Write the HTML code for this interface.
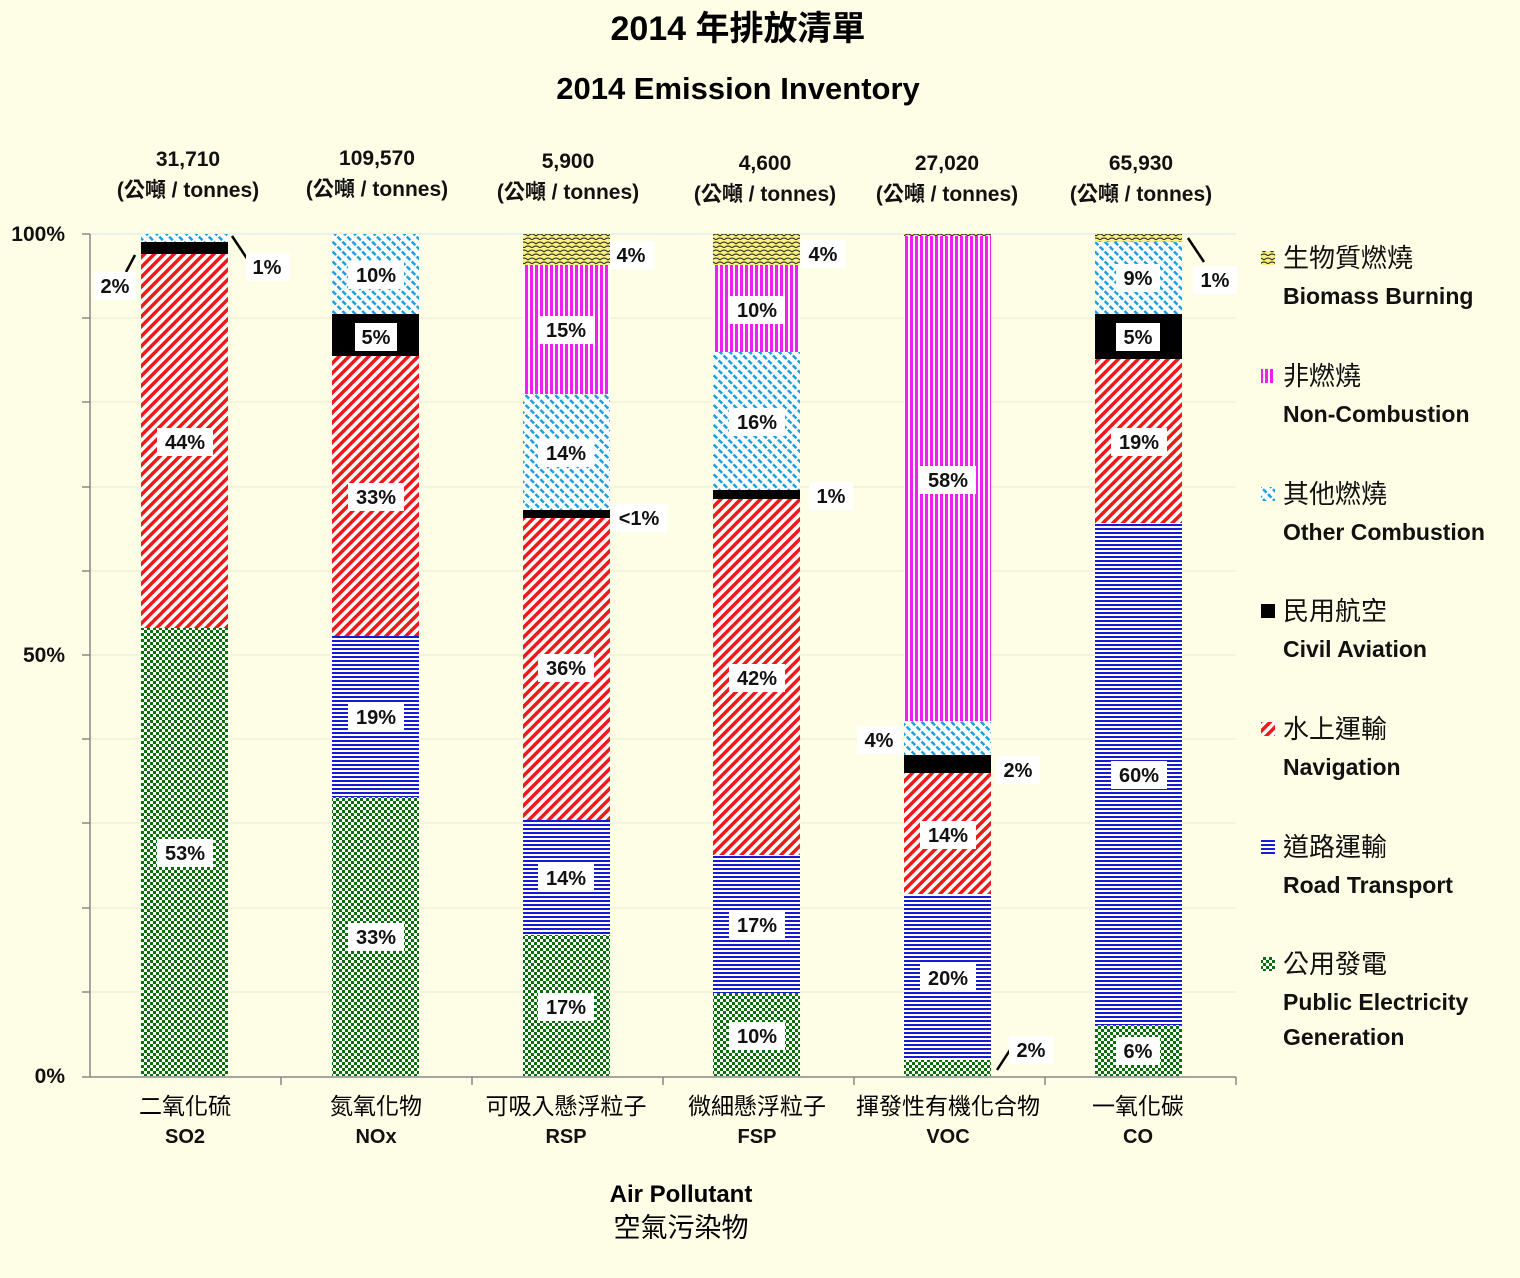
<!DOCTYPE html>
<html><head><meta charset="utf-8"><style>
body{margin:0;background:#fefde6;}
svg text{font-family:"Liberation Sans","Noto Sans CJK TC",sans-serif;}
.b{font-weight:bold;font-size:21px;fill:#111;}
.c{font-size:26px;fill:#111;}
.lb{font-weight:bold;font-size:20px;fill:#111;}
</style></head><body>
<svg width="1520" height="1273" xmlns="http://www.w3.org/2000/svg">
<defs>
<pattern id="g" width="6" height="6" patternUnits="userSpaceOnUse"><rect width="6" height="6" fill="#fff"/><rect width="3" height="3" fill="#0a6e0a"/><rect x="3" y="3" width="3" height="3" fill="#0a6e0a"/></pattern>
<pattern id="bl" width="6" height="4" patternUnits="userSpaceOnUse"><rect width="6" height="4" fill="#fff"/><rect width="6" height="2" fill="#1a1ad6"/></pattern>
<pattern id="r" width="7" height="7" patternUnits="userSpaceOnUse" patternTransform="rotate(45)"><rect width="7" height="7" fill="#fff"/><rect width="3.5" height="7" fill="#f01818"/></pattern>
<pattern id="cy" width="7" height="7" patternUnits="userSpaceOnUse" patternTransform="rotate(-45)"><rect width="7" height="7" fill="#fff"/><rect width="2.5" height="5" fill="#1aa0e0"/></pattern>
<pattern id="m" width="5" height="5" patternUnits="userSpaceOnUse"><rect width="5" height="5" fill="#fff"/><rect width="3" height="5" fill="#f01ef0"/></pattern>
<pattern id="y" width="8" height="8" patternUnits="userSpaceOnUse"><rect width="8" height="8" fill="#f6f080"/><path d="M0 4 Q4 0 8 4 M-4 8 Q0 4 4 8 M4 8 Q8 4 12 8" stroke="#222" fill="none" stroke-width="1"/></pattern>
</defs>
<text x="738" y="40" text-anchor="middle" style="font-weight:bold;font-size:34px">2014 年排放清單</text>
<text x="738" y="99" text-anchor="middle" style="font-weight:bold;font-size:31px">2014 Emission Inventory</text>
<g stroke="#ececd0" stroke-width="1">
<line x1="90" y1="318" x2="1236" y2="318"/><line x1="90" y1="402" x2="1236" y2="402"/><line x1="90" y1="487" x2="1236" y2="487"/><line x1="90" y1="571" x2="1236" y2="571"/><line x1="90" y1="655" x2="1236" y2="655"/><line x1="90" y1="739" x2="1236" y2="739"/><line x1="90" y1="823" x2="1236" y2="823"/><line x1="90" y1="908" x2="1236" y2="908"/><line x1="90" y1="992" x2="1236" y2="992"/>
</g>
<line x1="90" y1="234" x2="1236" y2="234" stroke="#d4e8ee"/>
<g stroke="#888" stroke-width="1.5">
<line x1="90" y1="234" x2="90" y2="1077"/><line x1="90" y1="1077" x2="1236" y2="1077"/>
<line x1="82" y1="234" x2="90" y2="234"/><line x1="82" y1="318" x2="90" y2="318"/><line x1="82" y1="402" x2="90" y2="402"/><line x1="82" y1="487" x2="90" y2="487"/><line x1="82" y1="571" x2="90" y2="571"/><line x1="82" y1="655" x2="90" y2="655"/><line x1="82" y1="739" x2="90" y2="739"/><line x1="82" y1="823" x2="90" y2="823"/><line x1="82" y1="908" x2="90" y2="908"/><line x1="82" y1="992" x2="90" y2="992"/><line x1="82" y1="1077" x2="90" y2="1077"/>
<line x1="281" y1="1077" x2="281" y2="1085"/><line x1="472" y1="1077" x2="472" y2="1085"/><line x1="663" y1="1077" x2="663" y2="1085"/><line x1="854" y1="1077" x2="854" y2="1085"/><line x1="1045" y1="1077" x2="1045" y2="1085"/><line x1="1236" y1="1077" x2="1236" y2="1085"/>
</g>
<text class="b" x="65" y="241" text-anchor="end">100%</text>
<text class="b" x="65" y="662" text-anchor="end">50%</text>
<text class="b" x="65" y="1083" text-anchor="end">0%</text>
<rect x="141" y="628" width="87" height="448" fill="url(#g)"/>
<rect x="141" y="254" width="87" height="374" fill="url(#r)"/>
<rect x="141" y="242" width="87" height="12" fill="#000"/>
<rect x="141" y="234" width="87" height="8" fill="url(#cy)"/>
<rect x="332" y="797" width="87" height="279" fill="url(#g)"/>
<rect x="332" y="636" width="87" height="161" fill="url(#bl)"/>
<rect x="332" y="356" width="87" height="280" fill="url(#r)"/>
<rect x="332" y="314" width="87" height="42" fill="#000"/>
<rect x="332" y="234" width="87" height="80" fill="url(#cy)"/>
<rect x="523" y="935" width="87" height="141" fill="url(#g)"/>
<rect x="523" y="820" width="87" height="115" fill="url(#bl)"/>
<rect x="523" y="518" width="87" height="302" fill="url(#r)"/>
<rect x="523" y="510" width="87" height="8" fill="#000"/>
<rect x="523" y="394" width="87" height="116" fill="url(#cy)"/>
<rect x="523" y="265" width="87" height="129" fill="url(#m)"/>
<rect x="523" y="234" width="87" height="31" fill="url(#y)"/>
<rect x="713" y="993" width="87" height="83" fill="url(#g)"/>
<rect x="713" y="855" width="87" height="138" fill="url(#bl)"/>
<rect x="713" y="499" width="87" height="356" fill="url(#r)"/>
<rect x="713" y="490" width="87" height="9" fill="#000"/>
<rect x="713" y="352" width="87" height="138" fill="url(#cy)"/>
<rect x="713" y="265" width="87" height="87" fill="url(#m)"/>
<rect x="713" y="234" width="87" height="31" fill="url(#y)"/>
<rect x="904" y="1060" width="87" height="16" fill="url(#g)"/>
<rect x="904" y="894" width="87" height="166" fill="url(#bl)"/>
<rect x="904" y="773" width="87" height="121" fill="url(#r)"/>
<rect x="904" y="755" width="87" height="18" fill="#000"/>
<rect x="904" y="721" width="87" height="34" fill="url(#cy)"/>
<rect x="904" y="236" width="87" height="485" fill="url(#m)"/>
<rect x="904" y="234" width="87" height="2" fill="url(#y)"/>
<rect x="1095" y="1025" width="87" height="51" fill="url(#g)"/>
<rect x="1095" y="523" width="87" height="502" fill="url(#bl)"/>
<rect x="1095" y="359" width="87" height="164" fill="url(#r)"/>
<rect x="1095" y="314" width="87" height="45" fill="#000"/>
<rect x="1095" y="242" width="87" height="72" fill="url(#cy)"/>
<rect x="1095" y="234" width="87" height="8" fill="url(#y)"/>
<g stroke="#000" stroke-width="2.5">
<line x1="135" y1="255" x2="126" y2="272"/><line x1="232" y1="236" x2="248" y2="260"/>
<line x1="1188" y1="238" x2="1204" y2="262"/><line x1="997" y1="1070" x2="1010" y2="1050"/>
</g>
<g>
<rect x="94" y="272" width="42" height="28" fill="#fff"/><text class="lb" x="115" y="293" text-anchor="middle">2%</text>
<rect x="246" y="253" width="44" height="28" fill="#fff"/><text class="lb" x="267" y="274" text-anchor="middle">1%</text>
<rect x="157" y="428" width="56" height="28" fill="#fff"/><text class="lb" x="185" y="449" text-anchor="middle">44%</text>
<rect x="157" y="839" width="56" height="28" fill="#fff"/><text class="lb" x="185" y="860" text-anchor="middle">53%</text>
<rect x="348" y="261" width="56" height="28" fill="#fff"/><text class="lb" x="376" y="282" text-anchor="middle">10%</text>
<rect x="355" y="323" width="42" height="28" fill="#fff"/><text class="lb" x="376" y="344" text-anchor="middle">5%</text>
<rect x="348" y="483" width="56" height="28" fill="#fff"/><text class="lb" x="376" y="504" text-anchor="middle">33%</text>
<rect x="348" y="703" width="56" height="28" fill="#fff"/><text class="lb" x="376" y="724" text-anchor="middle">19%</text>
<rect x="348" y="923" width="56" height="28" fill="#fff"/><text class="lb" x="376" y="944" text-anchor="middle">33%</text>
<rect x="610" y="241" width="44" height="28" fill="#fff"/><text class="lb" x="631" y="262" text-anchor="middle">4%</text>
<rect x="538" y="316" width="56" height="28" fill="#fff"/><text class="lb" x="566" y="337" text-anchor="middle">15%</text>
<rect x="538" y="439" width="56" height="28" fill="#fff"/><text class="lb" x="566" y="460" text-anchor="middle">14%</text>
<rect x="611" y="504" width="56" height="28" fill="#fff"/><text class="lb" x="639" y="525" text-anchor="middle">&lt;1%</text>
<rect x="538" y="654" width="56" height="28" fill="#fff"/><text class="lb" x="566" y="675" text-anchor="middle">36%</text>
<rect x="538" y="864" width="56" height="28" fill="#fff"/><text class="lb" x="566" y="885" text-anchor="middle">14%</text>
<rect x="538" y="993" width="56" height="28" fill="#fff"/><text class="lb" x="566" y="1014" text-anchor="middle">17%</text>
<rect x="801" y="240" width="44" height="28" fill="#fff"/><text class="lb" x="823" y="261" text-anchor="middle">4%</text>
<rect x="729" y="296" width="56" height="28" fill="#fff"/><text class="lb" x="757" y="317" text-anchor="middle">10%</text>
<rect x="729" y="408" width="56" height="28" fill="#fff"/><text class="lb" x="757" y="429" text-anchor="middle">16%</text>
<rect x="809" y="482" width="44" height="28" fill="#fff"/><text class="lb" x="831" y="503" text-anchor="middle">1%</text>
<rect x="729" y="664" width="56" height="28" fill="#fff"/><text class="lb" x="757" y="685" text-anchor="middle">42%</text>
<rect x="729" y="911" width="56" height="28" fill="#fff"/><text class="lb" x="757" y="932" text-anchor="middle">17%</text>
<rect x="729" y="1022" width="56" height="28" fill="#fff"/><text class="lb" x="757" y="1043" text-anchor="middle">10%</text>
<rect x="920" y="466" width="56" height="28" fill="#fff"/><text class="lb" x="948" y="487" text-anchor="middle">58%</text>
<rect x="857" y="726" width="44" height="28" fill="#fff"/><text class="lb" x="879" y="747" text-anchor="middle">4%</text>
<rect x="996" y="756" width="44" height="28" fill="#fff"/><text class="lb" x="1018" y="777" text-anchor="middle">2%</text>
<rect x="920" y="821" width="56" height="28" fill="#fff"/><text class="lb" x="948" y="842" text-anchor="middle">14%</text>
<rect x="920" y="964" width="56" height="28" fill="#fff"/><text class="lb" x="948" y="985" text-anchor="middle">20%</text>
<rect x="1009" y="1036" width="44" height="28" fill="#fff"/><text class="lb" x="1031" y="1057" text-anchor="middle">2%</text>
<rect x="1193" y="266" width="44" height="28" fill="#fff"/><text class="lb" x="1215" y="287" text-anchor="middle">1%</text>
<rect x="1116" y="264" width="44" height="28" fill="#fff"/><text class="lb" x="1138" y="285" text-anchor="middle">9%</text>
<rect x="1116" y="323" width="44" height="28" fill="#fff"/><text class="lb" x="1138" y="344" text-anchor="middle">5%</text>
<rect x="1111" y="428" width="56" height="28" fill="#fff"/><text class="lb" x="1139" y="449" text-anchor="middle">19%</text>
<rect x="1111" y="761" width="56" height="28" fill="#fff"/><text class="lb" x="1139" y="782" text-anchor="middle">60%</text>
<rect x="1116" y="1037" width="44" height="28" fill="#fff"/><text class="lb" x="1138" y="1058" text-anchor="middle">6%</text>
</g>
<text class="b" x="188" y="166" text-anchor="middle">31,710</text><text class="b" x="188" y="197" text-anchor="middle">(公噸 / tonnes)</text>
<text class="b" x="377" y="165" text-anchor="middle">109,570</text><text class="b" x="377" y="196" text-anchor="middle">(公噸 / tonnes)</text>
<text class="b" x="568" y="168" text-anchor="middle">5,900</text><text class="b" x="568" y="199" text-anchor="middle">(公噸 / tonnes)</text>
<text class="b" x="765" y="170" text-anchor="middle">4,600</text><text class="b" x="765" y="201" text-anchor="middle">(公噸 / tonnes)</text>
<text class="b" x="947" y="170" text-anchor="middle">27,020</text><text class="b" x="947" y="201" text-anchor="middle">(公噸 / tonnes)</text>
<text class="b" x="1141" y="170" text-anchor="middle">65,930</text><text class="b" x="1141" y="201" text-anchor="middle">(公噸 / tonnes)</text>
<text x="185" y="1114" text-anchor="middle" style="font-size:23px">二氧化硫</text><text class="lb" x="185" y="1143" text-anchor="middle">SO2</text>
<text x="376" y="1114" text-anchor="middle" style="font-size:23px">氮氧化物</text><text class="lb" x="376" y="1143" text-anchor="middle">NOx</text>
<text x="566" y="1114" text-anchor="middle" style="font-size:23px">可吸入懸浮粒子</text><text class="lb" x="566" y="1143" text-anchor="middle">RSP</text>
<text x="757" y="1114" text-anchor="middle" style="font-size:23px">微細懸浮粒子</text><text class="lb" x="757" y="1143" text-anchor="middle">FSP</text>
<text x="948" y="1114" text-anchor="middle" style="font-size:23px">揮發性有機化合物</text><text class="lb" x="948" y="1143" text-anchor="middle">VOC</text>
<text x="1138" y="1114" text-anchor="middle" style="font-size:23px">一氧化碳</text><text class="lb" x="1138" y="1143" text-anchor="middle">CO</text>
<text x="681" y="1202" text-anchor="middle" style="font-weight:bold;font-size:24px">Air Pollutant</text>
<text x="681" y="1237" text-anchor="middle" style="font-size:27px">空氣污染物</text>
<rect x="1261" y="251" width="14" height="14" fill="url(#y)"/><text class="c" x="1283" y="267">生物質燃燒</text><text class="b" x="1283" y="304" style="font-size:23px">Biomass Burning</text>
<rect x="1261" y="369" width="14" height="14" fill="url(#m)"/><text class="c" x="1283" y="385">非燃燒</text><text class="b" x="1283" y="422" style="font-size:23px">Non-Combustion</text>
<rect x="1261" y="487" width="14" height="14" fill="url(#cy)"/><text class="c" x="1283" y="503">其他燃燒</text><text class="b" x="1283" y="540" style="font-size:23px">Other Combustion</text>
<rect x="1261" y="604" width="14" height="14" fill="#000"/><text class="c" x="1283" y="620">民用航空</text><text class="b" x="1283" y="657" style="font-size:23px">Civil Aviation</text>
<rect x="1261" y="722" width="14" height="14" fill="url(#r)"/><text class="c" x="1283" y="738">水上運輸</text><text class="b" x="1283" y="775" style="font-size:23px">Navigation</text>
<rect x="1261" y="840" width="14" height="14" fill="url(#bl)"/><text class="c" x="1283" y="856">道路運輸</text><text class="b" x="1283" y="893" style="font-size:23px">Road Transport</text>
<rect x="1261" y="957" width="14" height="14" fill="url(#g)"/><text class="c" x="1283" y="973">公用發電</text><text class="b" x="1283" y="1010" style="font-size:23px">Public Electricity</text><text class="b" x="1283" y="1045" style="font-size:23px">Generation</text>
</svg>
</body></html>
